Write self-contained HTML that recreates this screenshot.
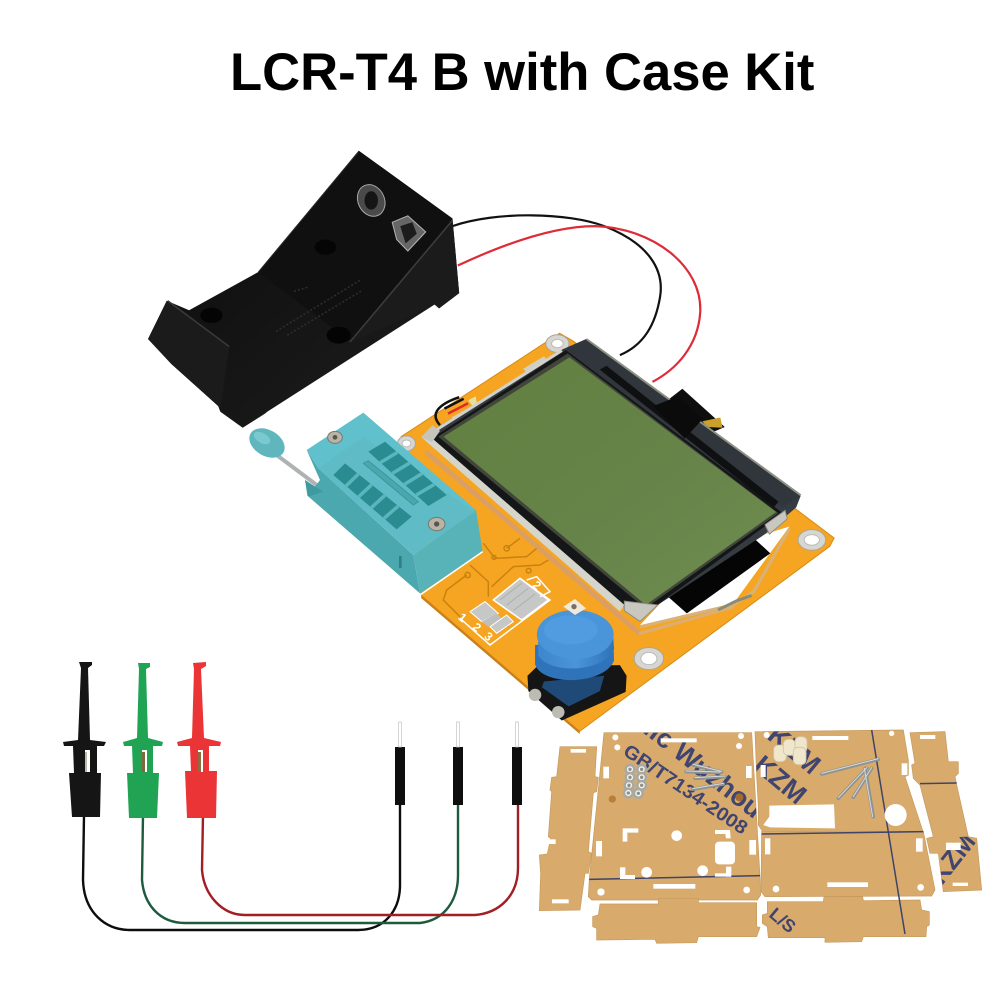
<!DOCTYPE html>
<html><head><meta charset="utf-8"><style>
html,body{margin:0;padding:0;background:#fff}
svg{display:block}
svg *{vector-effect:non-scaling-stroke}
</style></head><body>
<svg xmlns="http://www.w3.org/2000/svg" width="1000" height="1000" viewBox="0 0 1000 1000">
<defs>
<linearGradient id="lcd" x1="0" y1="0" x2="1" y2="1"><stop offset="0" stop-color="#61803f"/><stop offset=".55" stop-color="#668349"/><stop offset="1" stop-color="#6f8c50"/></linearGradient>
<linearGradient id="blk" x1="0" y1="0" x2="1" y2="1"><stop offset="0" stop-color="#0b0b0b"/><stop offset="1" stop-color="#1e1e1e"/></linearGradient>
<linearGradient id="blue" x1="0" y1="0" x2="1" y2="0"><stop offset="0" stop-color="#3f86cc"/><stop offset=".5" stop-color="#4a94da"/><stop offset="1" stop-color="#2f73b8"/></linearGradient>
<clipPath id="c2"><polygon transform="translate(530,710) scale(.33333)" points="222,68 665,68 690,500 692,555 682,570 185,570 175,560 178,505"/></clipPath>
<clipPath id="c3"><polygon transform="translate(530,710) scale(.33333)" points="675,65 1120,60 1135,150 1135,195 1125,200 1180,365 700,360 685,345 685,290 680,200"/></clipPath>
<clipPath id="c5"><polygon transform="translate(530,710) scale(.33333)" points="1190,385 1315,380 1340,385 1355,540 1240,545 1225,430 1200,430"/></clipPath>
<clipPath id="c7"><polygon transform="translate(530,710) scale(.33333)" points="712,575 880,575 882,560 998,560 1000,572 1170,570 1175,600 1198,605 1198,645 1190,650 1188,680 1000,680 995,695 885,697 885,683 715,683 712,650 697,640 697,615 712,610"/></clipPath>
</defs>
<rect width="1000" height="1000" fill="#fff"/>
<text x="230" y="90" font-family="'Liberation Sans',sans-serif" font-weight="700" font-size="52.6" fill="#000">LCR-T4 B with Case Kit</text>

<!-- zoom1 group -->
<g transform="translate(140,140) scale(.4464,.3827)">
  <!-- wires -->
  <path d="M700,225 C800,185 960,190 1040,225 C1140,270 1175,340 1165,410 C1155,480 1130,535 1075,562" fill="none" stroke="#111" stroke-width="2.2"/>
  <path d="M712,328 C800,280 920,225 1020,225 C1150,230 1260,330 1255,450 C1250,540 1200,600 1148,632" fill="none" stroke="#dd2c38" stroke-width="2.2"/>
  <!-- holder -->
  <polygon points="490,28 700,205 715,400 670,440 660,430 285,710 280,715 230,752 180,710 175,695 70,585 18,520 60,420 110,445 265,345" fill="url(#blk)"/>
  <polygon points="700,205 715,400 670,440 660,430 470,530" fill="#1b1b1b"/>
  <polygon points="490,28 700,205 470,525 265,345" fill="#101010"/>
  <line x1="700" y1="210" x2="470" y2="528" stroke="#3d3d3d" stroke-width="1.5"/>
  <line x1="490" y1="30" x2="265" y2="345" stroke="#2c2c2c" stroke-width="1"/>
  <polygon points="60,420 200,540 180,700 70,585 18,520" fill="#1b1b1b"/>
  <line x1="62" y1="420" x2="200" y2="540" stroke="#3a3a3a" stroke-width="1.5"/>
  <ellipse cx="160" cy="458" rx="25" ry="20" fill="#040404"/>
  <ellipse cx="445" cy="510" rx="27" ry="22" fill="#040404"/>
  <ellipse cx="415" cy="280" rx="24" ry="20" fill="#050505"/>
  <ellipse cx="518" cy="158" rx="30" ry="42" fill="#4a4a4a" stroke="#a8a8a8" stroke-width="1" transform="rotate(-15 518 158)"/>
  <ellipse cx="518" cy="158" rx="15" ry="24" fill="#151515"/>
  <polygon points="565,215 600,198 640,240 600,290 575,260" fill="#666" stroke="#b5b5b5" stroke-width="1"/>
  <polygon points="583,225 610,215 620,245 595,270" fill="#1c1c1c"/>
  <g stroke="#2e2e2e" stroke-width="1.5" stroke-dasharray="2 2"><line x1="305" y1="500" x2="495" y2="365"/><line x1="330" y1="510" x2="495" y2="395"/><line x1="345" y1="395" x2="375" y2="385"/></g>

  <!-- PCB -->
  <polygon points="940,505 970,525 1555,1040 1545,1062 985,1545 630,1190 585,775" fill="#f5a521" stroke="#d98a14" stroke-width="1"/>
  <polygon points="630,1190 985,1545 985,1552 630,1197" fill="#c9801c"/>
  <!-- copper strip -->
  <line x1="640" y1="815" x2="1120" y2="1290" stroke="#dc9f63" stroke-width="5"/>
  <line x1="1118" y1="1290" x2="1330" y2="1220" stroke="#dcae74" stroke-width="3"/>
  <!-- holes -->
  <g fill="#d8d6d0" stroke="#a9a59a" stroke-width="1">
    <ellipse cx="935" cy="532" rx="26" ry="23"/><ellipse cx="1505" cy="1045" rx="31" ry="27"/><ellipse cx="1140" cy="1355" rx="33" ry="29"/><ellipse cx="597" cy="793" rx="20" ry="20"/>
  </g>
  <g fill="#fff" stroke="#bbb" stroke-width="1">
    <ellipse cx="935" cy="532" rx="13" ry="11"/><ellipse cx="1505" cy="1045" rx="17" ry="14"/><ellipse cx="1140" cy="1355" rx="18" ry="16"/><ellipse cx="597" cy="793" rx="10" ry="9"/>
  </g>
  <!-- white flap and ribbon -->
  <polygon points="1120,1268 1330,1210 1455,1010 1400,1030 1170,1205" fill="#fff"/>
  <polyline points="1120,1272 1330,1214 1375,1180 1455,1015" fill="none" stroke="#d9b27a" stroke-width="3"/>
  <polyline points="1295,1228 1335,1205 1370,1190" fill="none" stroke="#8b8b78" stroke-width="3"/>
  <polygon points="1165,1175 1370,1035 1412,1080 1225,1237" fill="#050505"/>
  <!-- connector wires left -->
  <path d="M672,745 C648,715 670,690 715,672" fill="none" stroke="#111" stroke-width="2.5"/>
  <path d="M690,715 L735,688" fill="none" stroke="#e02a2a" stroke-width="2.5"/>
  <path d="M700,728 L742,700" fill="none" stroke="#eeeee6" stroke-width="2.5"/>
  <path d="M682,702 L725,676" fill="none" stroke="#111" stroke-width="2.5"/>
  <polygon points="735,680 752,670 755,690 745,695" fill="#eadf9a"/>
  <polygon points="858,598 905,565 915,580 868,610" fill="#cfcfc4"/>
  <!-- clip at right -->
  <polygon points="1215,650 1310,750 1240,785 1165,695" fill="#0e0e0e"/>
  <polygon points="1260,735 1300,725 1305,752 1270,750" fill="#c9a02a"/>
  <!-- LCD -->
  <polygon points="1000,520 1480,930 1470,960 1400,1030 1130,1238 1085,1222 660,785 640,770 945,548" fill="#343b41"/>
  <polygon points="1000,520 1480,930 1440,960 960,560 945,548" fill="#30363b"/>
  <polyline points="1000,520 1480,928" fill="none" stroke="#8e9084" stroke-width="2"/>
  <polygon points="1030,600 1045,590 1430,945 1420,960" fill="#0f1012"/>
  <polygon points="1150,695 1205,670 1260,730 1220,780" fill="#0b0b0b"/>
  <polyline points="640,775 945,550" fill="none" stroke="#d2d2cc" stroke-width="3"/>
  <polygon points="630,776 654,772 1090,1208 1075,1232" fill="#d6d5cb"/>
  <polygon points="654,779 954,549 1440,975 1135,1235 1105,1235" fill="#141617"/>
  <polygon points="668,775 958,558 1430,975 1132,1224" fill="#42463a"/>
  <polygon points="680,775 962,568 1425,972 1133,1215" fill="url(#lcd)"/>
  <polygon points="1085,1205 1160,1215 1120,1258 1085,1230" fill="#c8c8c0" stroke="#8f8f85" stroke-width="1"/>
  <polygon points="1400,1005 1445,968 1450,990 1410,1030" fill="#c8c8c0" stroke="#8f8f85" stroke-width="1"/>
  <polygon points="630,776 655,745 672,760 654,790" fill="#c5c5bc"/>
  <!-- button -->
  <polygon points="868,1400 890,1375 1075,1372 1090,1400 1088,1442 945,1517 870,1440" fill="#151515"/>
  <polygon points="905,1415 1040,1400 1030,1440 960,1480 900,1430" fill="#1f4a78"/>
  <ellipse cx="885" cy="1450" rx="14" ry="16" fill="#bcbcb5"/>
  <ellipse cx="937" cy="1495" rx="14" ry="16" fill="#bcbcb5"/>
  <path d="M885,1320 L885,1370 C900,1428 1040,1425 1062,1360 L1060,1300 Z" fill="#2f74bb"/>
  <path d="M892,1310 L892,1345 C910,1395 1040,1395 1062,1330 L1060,1300 Z" fill="url(#blue)"/>
  <ellipse cx="975" cy="1292" rx="86" ry="64" fill="#4a94da"/>
  <ellipse cx="965" cy="1280" rx="60" ry="38" fill="#519be1"/>
</g>

<!-- zoom4 group -->
<g transform="translate(300,400) scale(.33333)">
  <!-- traces -->
  <g fill="none" stroke="#c9820f" stroke-width="1.5">
    <path d="M620,445 L660,415"/><circle cx="620" cy="445" r="8"/>
    <path d="M550,430 L585,475 L680,470 L710,445"/><circle cx="582" cy="472" r="6"/>
    <path d="M510,495 L565,545 L565,590"/>
    <path d="M575,560 L640,500 L720,495 L745,480"/><circle cx="686" cy="512" r="7"/>
    <path d="M500,525 L440,570 L430,600 L480,650"/><circle cx="503" cy="525" r="8"/>
    <path d="M575,640 L600,665 L625,680"/>
  </g>
  <!-- pads -->
  <polygon points="580,600 660,535 745,600 665,660" fill="#c6c8c7" stroke="#fff" stroke-width="1.5"/>
  <g stroke="#aeb0af" stroke-width="1"><line x1="600" y1="600" x2="665" y2="550"/><line x1="620" y1="615" x2="685" y2="565"/><line x1="640" y1="632" x2="705" y2="582"/></g>
  <polygon points="510,635 555,605 595,640 545,665" fill="#c6c8c7" stroke="#fff" stroke-width="1"/>
  <polygon points="545,665 590,640 605,655 565,680" fill="#bcbfbd"/>
  <polygon points="570,680 620,645 640,665 590,700" fill="#c6c8c7" stroke="#fff" stroke-width="1"/>
  <polyline points="480,655 570,735 750,600 660,535" fill="none" stroke="#fff" stroke-width="1.5"/>
  <polyline points="680,540 710,530 750,575 720,590" fill="none" stroke="#fff" stroke-width="1.5"/>
  <polygon points="790,620 825,597 858,625 825,645" fill="#f0e8d8"/>
  <circle cx="822" cy="620" r="8" fill="#77706a"/>
  <!-- lever -->
  <line x1="-110" y1="135" x2="70" y2="270" stroke="#aeb2b3" stroke-width="4"/>
  <!-- socket -->
  <polygon points="20,150 55,205 340,465 360,580 22,287 15,240 45,260 60,240" fill="#4ba8ae"/>
  <polygon points="340,465 528,330 548,455 360,580" fill="#58b3b8"/>
  <polygon points="190,38 528,330 340,465 55,205 20,150" fill="#60c0cb"/>
  <polygon points="55,205 190,110 525,335 340,462" fill="#5fbcc6"/>
  <polyline points="548,455 360,585" fill="none" stroke="#fff" stroke-width="1.5"/>
  <polygon points="15,240 45,260 70,275 25,290" fill="#3f9aa0"/>
  <rect x="297" y="468" width="8" height="36" fill="#2f8185"/>
  <!-- slots -->
  <polygon points="255,125 440,285 385,318 205,155" fill="#2a8b90"/>
  <polygon points="135,190 335,350 290,388 100,225" fill="#2a8b90"/>
  <g stroke="#5ab6bd" stroke-width="3.5">
    <line x1="241" y1="188" x2="292" y2="157"/><line x1="277" y1="220" x2="329" y2="189"/><line x1="313" y1="253" x2="366" y2="221"/><line x1="349" y1="285" x2="403" y2="253"/>
    <line x1="138" y1="258" x2="175" y2="222"/><line x1="176" y1="290" x2="215" y2="254"/><line x1="214" y1="323" x2="255" y2="286"/><line x1="252" y1="355" x2="295" y2="318"/>
  </g>
  <polygon points="190,190 205,182 355,305 340,315" fill="#4ba7ae" stroke="#3a979d" stroke-width="1"/>
  <!-- screws -->
  <ellipse cx="105" cy="112" rx="22" ry="18" fill="#b8b4a8" stroke="#7b776d" stroke-width="1"/>
  <ellipse cx="410" cy="372" rx="25" ry="20" fill="#b8b4a8" stroke="#7b776d" stroke-width="1"/>
  <circle cx="105" cy="112" r="7" fill="#5a564f"/><circle cx="410" cy="372" r="8" fill="#5a564f"/>
</g>
<ellipse cx="267" cy="443" rx="19" ry="13" fill="#5fb6bc" transform="rotate(30 267 443)"/>
<ellipse cx="262" cy="438" rx="9" ry="5" fill="#79c9cf" transform="rotate(30 262 438)"/>
<g font-family="'Liberation Sans',sans-serif" font-weight="700" font-size="12" fill="#fff">
  <text x="534" y="590" transform="rotate(40 538 585)">2</text>
  <text x="459" y="622" transform="rotate(40 463 618)">1</text>
  <text x="474" y="632" transform="rotate(40 478 627)">2</text>
  <text x="485" y="641" transform="rotate(40 489 637)">3</text>
</g>

<!-- cables -->
<g fill="none" stroke-width="2.4">
  <path d="M84,815 L83,880 C84,912 105,930 130,930 L358,930 C385,930 400,910 400,885 L400,800" stroke="#0d0d0d"/>
  <path d="M143,815 L142,880 C144,905 160,923 185,923 L420,923 C445,920 458,900 458,875 L458,800" stroke="#1e5a3e"/>
  <path d="M203,815 L202,870 C204,895 222,915 245,915 L475,915 C500,913 518,895 518,868 L518,800" stroke="#a31d24"/>
</g>
<!-- probes -->
<g>
  <path d="M79,662 L92,662 L92,665 L88,668 L90,740 L106,742 L104,746 L97,746 L97,773 L101,773 L100,817 L72,817 L69,773 L74,773 L73,746 L64,746 L63,742 L78,740 L81,668 Z" fill="#151515"/>
  <rect x="85" y="750" width="5" height="22" fill="#fff"/><rect x="85" y="752" width="2" height="20" fill="#bba"/>
  <path d="M138,663 L150,663 L150,667 L146,669 L148,738 L163,742 L162,746 L153,746 L153,773 L159,773 L157,818 L129,818 L127,773 L133,773 L132,746 L124,746 L123,742 L137,738 L139,669 Z" fill="#21a354"/>
  <rect x="142" y="750" width="5" height="22" fill="#fff"/><rect x="142" y="752" width="3" height="20" fill="#7c6a3c"/>
  <path d="M193,663 L206,662 L206,666 L201,669 L204,738 L221,742 L220,746 L209,746 L209,771 L217,771 L216,818 L187,818 L185,771 L191,771 L190,746 L178,746 L177,742 L192,738 L194,669 Z" fill="#ea3436"/>
  <rect x="198" y="750" width="5" height="22" fill="#fff"/><rect x="198" y="752" width="3" height="20" fill="#8c6c40"/>
  <g fill="#0e0e0e"><rect x="395" y="747" width="10" height="58"/><rect x="453" y="747" width="10" height="58"/><rect x="512" y="747" width="10" height="58"/></g>
  <g fill="#fff" stroke="#c4c4c4" stroke-width=".7"><rect x="398.500" y="722" width="3" height="25"/><rect x="456.500" y="722" width="3" height="25"/><rect x="515.500" y="722" width="3" height="25"/></g>
</g>

<!-- acrylic panels -->
<g transform="translate(530,710) scale(.33333)">
  <g fill="#d8ab6d" stroke="#c69a5e" stroke-width=".7">
    <polygon points="90,110 200,110 195,200 205,202 200,245 190,248 175,425 185,430 175,490 165,490 150,600 28,602 32,490 28,435 52,432 62,385 55,380 65,245 60,240 65,202 80,200"/>
    <polygon points="222,68 665,68 690,500 692,555 682,570 185,570 175,560 178,505"/>
    <polygon points="675,65 1120,60 1135,150 1135,195 1125,200 1180,368 700,368 685,345 685,290 680,200"/>
    <polygon points="695,364 1180,364 1215,540 1205,558 705,560 693,545"/>
    <polygon points="1140,68 1245,65 1255,155 1285,155 1285,190 1275,200 1280,225 1315,380 1340,385 1355,540 1240,545 1225,430 1200,430 1190,385 1210,380 1170,225 1150,205 1145,165 1155,160"/>
    <polygon points="210,582 385,582 385,565 505,565 505,578 680,578 680,650 690,652 680,680 505,680 500,698 380,700 375,688 200,690 200,655 188,650 188,620 205,615"/>
    <polygon points="712,575 880,575 882,560 998,560 1000,572 1170,570 1175,600 1198,605 1198,645 1190,650 1188,680 1000,680 995,695 885,697 885,683 715,683 712,650 697,640 697,615 712,610"/>
  </g>
  <!-- print lines -->
  <g stroke="#3f4468" fill="none" stroke-width="1.500">
    <line x1="178" y1="508" x2="690" y2="497"/>
    <line x1="695" y1="372" x2="1180" y2="365"/>
    <line x1="1025" y1="60" x2="1125" y2="672"/>
    <line x1="1170" y1="221" x2="1280" y2="219"/>
  </g>
</g>
<!-- printed text (clipped to the panels, under the cut-outs) -->
<g font-family="'Liberation Sans',sans-serif" font-weight="700" fill="#404570">
  <g clip-path="url(#c2)">
    <text x="622" y="754" font-size="19" textLength="145" lengthAdjust="spacingAndGlyphs" transform="rotate(34 622 754)">GB/T7134-2008</text>
    <text x="642" y="732" font-size="27" transform="rotate(38 642 732)">lic Wuzhou</text>
  </g>
  <g clip-path="url(#c3)">
    <text x="766" y="738" font-size="27" transform="rotate(40 766 738)">KZM</text>
    <text x="752" y="768" font-size="27" transform="rotate(40 752 768)">KZM</text>
  </g>
  <g clip-path="url(#c5)">
    <text x="942" y="886" font-size="26" transform="rotate(-52 942 886)">KZM</text>
  </g>
  <g clip-path="url(#c7)">
    <text x="768" y="916" font-size="18" transform="rotate(40 768 916)">L/S</text>
  </g>
</g>
<g transform="translate(530,710) scale(.33333)">
  <!-- white cut-outs -->
  <g fill="#fff">
    <polygon points="718,287 912,283 915,355 720,352 700,345 718,320"/>
    <circle cx="1097" cy="315" r="33"/>
    <rect x="392" y="85" width="108" height="12"/><rect x="847" y="78" width="108" height="12"/>
    <rect x="1170" y="75" width="46" height="12"/><rect x="122" y="117" width="46" height="11"/>
    <rect x="220" y="170" width="17" height="35"/><rect x="648" y="168" width="17" height="36"/>
    <rect x="692" y="165" width="15" height="36"/><rect x="1115" y="160" width="17" height="35"/>
    <rect x="198" y="393" width="18" height="46"/><rect x="658" y="390" width="20" height="44"/>
    <rect x="705" y="385" width="16" height="48"/><rect x="1158" y="385" width="20" height="40"/>
    <rect x="370" y="522" width="126" height="14"/><rect x="892" y="517" width="122" height="14"/>
    <rect x="66" y="568" width="50" height="12"/><rect x="1268" y="518" width="46" height="10"/>
    <rect x="1248" y="398" width="44" height="22"/>
    <rect x="555" y="395" width="60" height="68" rx="12"/>
    <polygon points="278,355 325,355 325,368 292,368 292,395 278,395"/>
    <polygon points="555,360 600,360 602,385 588,385 586,372 555,372"/>
    <circle cx="440" cy="377" r="16"/><circle cx="350" cy="487" r="16"/><circle cx="518" cy="482" r="16"/>
    <rect x="270" y="472" width="16" height="30"/><rect x="270" y="495" width="45" height="12"/>
    <rect x="588" y="470" width="16" height="30"/><rect x="555" y="490" width="48" height="10"/>
    <circle cx="213" cy="546" r="11"/><circle cx="650" cy="540" r="10"/><circle cx="738" cy="537" r="10"/><circle cx="1172" cy="532" r="10"/>
    <circle cx="256" cy="82" r="9"/><circle cx="633" cy="78" r="9"/><circle cx="262" cy="112" r="9"/><circle cx="627" cy="108" r="9"/><circle cx="710" cy="75" r="9"/><circle cx="1085" cy="70" r="8"/>
    <rect x="47" y="388" width="30" height="14"/>
  </g>
  <circle cx="247" cy="267" r="11" fill="#b97f3a"/>
  <circle cx="628" cy="262" r="12" fill="#a56a2d"/>
  <!-- hardware -->
  <g fill="#f4f3ee" stroke="#a9a9a3" stroke-width="2.500">
    <circle cx="300" cy="178" r="13"/><circle cx="335" cy="178" r="13"/><circle cx="300" cy="202" r="13"/><circle cx="335" cy="202" r="13"/><circle cx="297" cy="226" r="13"/><circle cx="335" cy="226" r="13"/><circle cx="295" cy="249" r="13"/><circle cx="325" cy="250" r="13"/>
  </g>
  <g fill="#8f8f8a"><circle cx="300" cy="178" r="5"/><circle cx="335" cy="178" r="5"/><circle cx="300" cy="202" r="5"/><circle cx="335" cy="202" r="5"/><circle cx="297" cy="226" r="5"/><circle cx="335" cy="226" r="5"/><circle cx="295" cy="249" r="5"/><circle cx="325" cy="250" r="5"/></g>
  <g stroke="#8d9292" stroke-width="3.500" stroke-linecap="round">
    <line x1="490" y1="165" x2="575" y2="186"/><line x1="468" y1="185" x2="570" y2="188"/><line x1="495" y1="205" x2="585" y2="200"/><line x1="488" y1="238" x2="580" y2="222"/>
    <line x1="875" y1="192" x2="1045" y2="148"/><line x1="925" y1="265" x2="1010" y2="175"/><line x1="970" y1="262" x2="1025" y2="175"/><line x1="1005" y1="175" x2="1030" y2="320"/>
  </g>
  <g stroke="#d8dbdb" stroke-width="1" stroke-linecap="round">
    <line x1="490" y1="163" x2="575" y2="184"/><line x1="468" y1="183" x2="570" y2="186"/><line x1="495" y1="203" x2="585" y2="198"/><line x1="488" y1="236" x2="580" y2="220"/>
    <line x1="875" y1="190" x2="1045" y2="146"/><line x1="925" y1="263" x2="1010" y2="173"/><line x1="970" y1="260" x2="1025" y2="173"/><line x1="1003" y1="175" x2="1028" y2="320"/>
  </g>
  <g fill="#efe6cc" stroke="#cfc6a6" stroke-width=".8">
    <rect x="731" y="105" width="38" height="50" rx="14"/><rect x="760" y="88" width="36" height="48" rx="14"/><rect x="795" y="80" width="36" height="48" rx="14"/><rect x="790" y="112" width="38" height="52" rx="14"/>
  </g>
</g>
</svg>
</body></html>
